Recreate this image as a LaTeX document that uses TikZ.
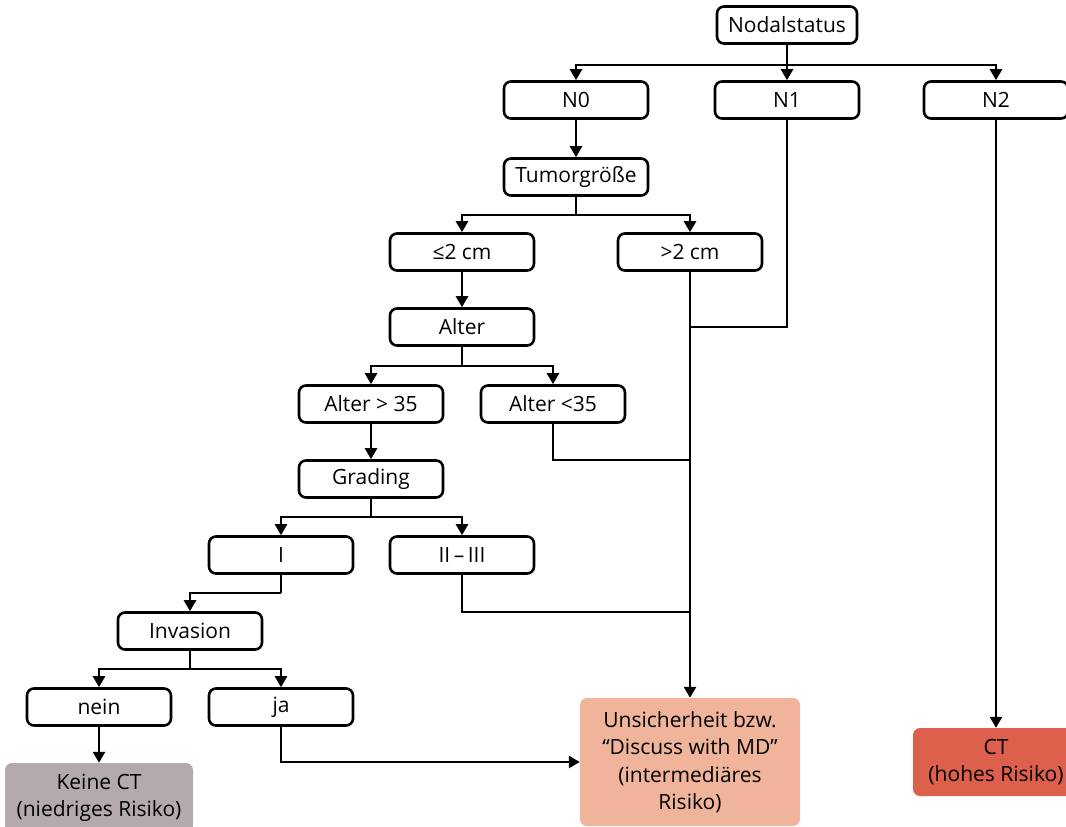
\documentclass[tikz,border=0pt]{standalone}
\usepackage{fontspec}
\setmainfont{Open Sans}
\usetikzlibrary{arrows.meta}
\definecolor{lowrisk}{HTML}{B4A9AB}
\definecolor{midrisk}{HTML}{F0B49B}
\definecolor{highrisk}{HTML}{DC604C}
\begin{document}
\begin{tikzpicture}[x=1pt,y=-1pt,
  box/.style={draw, line width=2.6pt, rounded corners=7pt, minimum width=144pt, minimum height=37pt, inner sep=0pt, font=\fontsize{21}{25}\selectfont},
  res/.style={rounded corners=7pt, inner sep=0pt, align=center, font=\fontsize{21}{27.5}\selectfont},
  line/.style={line width=2.6pt},
  arr/.style={line width=2.6pt, -{Triangle[width=12pt,length=11pt]}}]
\useasboundingbox (0,0) rectangle (1066,827);
% nodes
\node[box, minimum width=140pt] (nodal) at (787,25) {Nodalstatus};
\node[box] (n0) at (576,100) {N0};
\node[box] (n1) at (787,100) {N1};
\node[box] (n2) at (996,100) {N2};
\node[box] (tumor) at (576,177) {Tumorgröße};
\node[box] (le2) at (462,252) {≤2 cm};
\node[box] (gt2) at (690,252) {>2 cm};
\node[box] (alter) at (462,327) {Alter};
\node[box] (agt) at (371,404) {Alter > 35};
\node[box] (alt) at (553,404) {Alter <35};
\node[box] (grading) at (371,479) {Grading};
\node[box] (g1) at (281,555) {I};
\node[box] (g23) at (462,555) {II\,–\,III};
\node[box] (inv) at (190,631) {Invasion};
\node[box] (nein) at (99,707) {nein};
\node[box] (ja) at (281,707) {ja};
\node[res, fill=lowrisk, minimum width=188pt, minimum height=70pt] (keine) at (99,798) {Keine CT\\(niedriges Risiko)};
\node[res, fill=midrisk, minimum width=220pt, minimum height=128pt] (unsich) at (690,762) {Unsicherheit bzw.\\“Discuss with MD”\\(intermediäres\\Risiko)};
\node[res, fill=highrisk, minimum width=166pt, minimum height=68pt] (ct) at (996,762) {CT\\(hohes Risiko)};
% junction coordinates
\coordinate (j0) at (787,65);
\coordinate (j1) at (576,215);
\coordinate (j2) at (462,366);
\coordinate (j3) at (371,517);
\coordinate (j4) at (281,593);
\coordinate (j5) at (190,669);
\coordinate (m1) at (690,327);
\coordinate (m2) at (690,460);
\coordinate (m3) at (690,612);
% connectors
\draw[line] (nodal) -- (j0);
\draw[arr] (j0) -| (n0);
\draw[arr] (nodal) -- (n1);
\draw[arr] (j0) -| (n2);
\draw[arr] (n0) -- (tumor);
\draw[line] (tumor) -- (j1);
\draw[arr] (j1) -| (le2);
\draw[arr] (j1) -| (gt2);
\draw[arr] (gt2) -- (unsich);
\draw[line] (n1) |- (m1);
\draw[arr] (le2) -- (alter);
\draw[line] (alter) -- (j2);
\draw[arr] (j2) -| (agt);
\draw[arr] (j2) -| (alt);
\draw[line] (alt) |- (m2);
\draw[arr] (agt) -- (grading);
\draw[line] (grading) -- (j3);
\draw[arr] (j3) -| (g1);
\draw[arr] (j3) -| (g23);
\draw[line] (g23) |- (m3);
\draw[line] (g1) -- (j4);
\draw[arr] (j4) -| (inv);
\draw[line] (inv) -- (j5);
\draw[arr] (j5) -| (nein);
\draw[arr] (j5) -| (ja);
\draw[arr] (nein) -- (keine);
\draw[arr] (ja) |- (unsich);
\draw[arr] (n2) -- (ct);
\end{tikzpicture}
\end{document}
